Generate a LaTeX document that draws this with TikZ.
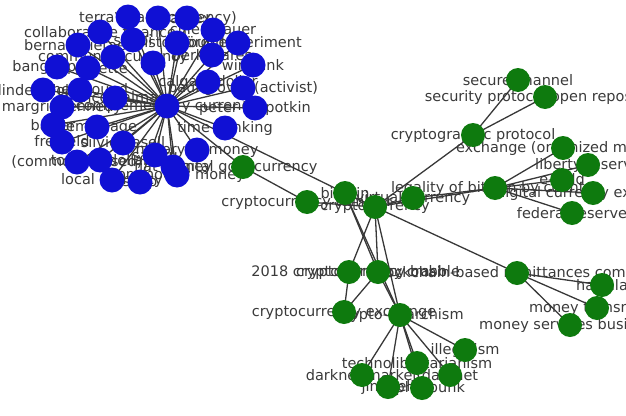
\documentclass[tikz,border=0pt]{standalone}
\usepackage{fontspec}
\setmainfont{DejaVu Sans}
\definecolor{nblue}{RGB}{16,16,212}
\definecolor{ngreen}{RGB}{14,122,14}
\definecolor{ltext}{RGB}{58,58,58}
\pgfdeclarelayer{lab}
\pgfdeclarelayer{edg}
\pgfsetlayers{lab,edg,main}
\tikzset{
  bnode/.style={circle,fill=nblue,minimum size=25pt,inner sep=0pt},
  gnode/.style={circle,fill=ngreen,minimum size=24pt,inner sep=0pt},
  lbl/.style={text=ltext,inner sep=0pt,font=\fontsize{14.5}{16}\selectfont},
  edge/.style={draw=black!78,line width=1.3pt}
}
\newcommand{\bn}[4]{\node[bnode] (#1) at (#2,#3) {};
  \begin{pgfonlayer}{lab}\node[lbl] (#1l) at (#2,#3) {#4};\end{pgfonlayer}}
\newcommand{\gn}[4]{\node[gnode] (#1) at (#2,#3) {};
  \begin{pgfonlayer}{lab}\node[lbl] (#1l) at (#2,#3) {#4};\end{pgfonlayer}}
\begin{document}
\begin{tikzpicture}[x=1pt,y=-1pt]
\useasboundingbox (0,0) rectangle (626,415);
\clip (0,0) rectangle (626,415);
% blue cluster
\bn{b0}{167}{106}{complementary currency}
\bn{b1}{128}{17}{ven}
\bn{b2}{158}{18}{terra (trade currency)}
\bn{b3}{187}{18}{sardex}
\bn{b4}{100}{32}{collaborative finance}
\bn{b5}{213}{30}{chiemgauer}
\bn{b6}{133}{40}{simbi}
\bn{b7}{177}{43}{bristol pound}
\bn{b8}{238}{43}{wörgl experiment}
\bn{b9}{78}{45}{bernard lietaer}
\bn{b10}{113}{57}{community currency}
\bn{b11}{153}{63}{lets}
\bn{b12}{212}{55}{berkshares}
\bn{b13}{57}{67}{bangla-pesa}
\bn{b14}{88}{68}{sol violette}
\bn{b15}{253}{65}{wir bank}
\bn{b16}{43}{90}{linden dollar}
\bn{b17}{80}{90}{totnes pound}
\bn{b18}{208}{82}{calgary dollar}
\bn{b19}{243}{88}{paul glover (activist)}
\bn{b20}{115}{98}{banco palmas}
\bn{b21}{62}{107}{margrit kennedy}
\bn{b22}{255}{108}{peter kropotkin}
\bn{b23}{53}{125}{barter}
\bn{b24}{97}{127}{demurrage}
\bn{b25}{225}{128}{time banking}
\bn{b26}{62}{142}{freigeld}
\bn{b27}{123}{143}{silvio gesell}
\bn{b28}{197}{150}{history of money}
\bn{b29}{155}{155}{sarafu}
\bn{b30}{77}{162}{(commons-based)}
\bn{b31}{100}{160}{toronto dollar}
\bn{b32}{173}{167}{fiat money}
\bn{b33}{112}{180}{local currency}
\bn{b34}{140}{182}{scrip}
\bn{b35}{177}{175}{commodity money}
% green cluster
\gn{g1}{243}{167}{digital gold currency}
\gn{g2}{345}{193}{bitcoin}
\gn{g3}{307}{202}{cryptocurrency tumbler}
\gn{g4}{375}{207}{cryptocurrency}
\gn{g5}{413}{198}{virtual currency}
\gn{g6}{473}{135}{cryptographic protocol}
\gn{g7}{518}{80}{secure channel}
\gn{g8}{545}{97}{security protocol open repository}
\gn{g9}{495}{188}{legality of bitcoin by country}
\gn{g10}{563}{148}{exchange (organized market)}
\gn{g11}{588}{165}{liberty reserve}
\gn{g12}{562}{180}{e-gold}
\gn{g13}{593}{193}{digital currency exchanger}
\gn{g14}{572}{213}{federal reserve}
\gn{g15}{349}{272}{2018 cryptocurrency crash}
\gn{g16}{378}{272}{cryptocurrency bubble}
\gn{g17}{517}{273}{blockchain-based remittances company}
\gn{g18}{602}{285}{hawala}
\gn{g19}{597}{308}{money transmitter}
\gn{g20}{570}{325}{money services business}
\gn{g21}{344}{312}{cryptocurrency exchange}
\gn{g22}{400}{315}{crypto-anarchism}
\gn{g23}{465}{350}{illegalism}
\gn{g24}{417}{363}{technolibertarianism}
\gn{g25}{362}{375}{darknet market}
\gn{g26}{450}{375}{darknet}
\gn{g27}{388}{387}{jim bell}
\gn{g28}{422}{388}{cypherpunk}
\begin{pgfonlayer}{edg}
\foreach \i in {1,...,35} {\draw[edge] (b0.center) -- (b\i.center);}
\draw[edge] (b0.center) -- (g1.center);
\draw[edge] (b0.center) -- (g2.center);
\draw[edge] (g1.center) -- (g3.center);
\draw[edge] (g3.center) -- (g4.center);
\draw[edge] (g2.center) -- (g4.center);
\draw[edge] (g2.center) -- (g16.center);
\draw[edge] (g2.center) -- (g22.center);
\draw[edge] (g4.center) -- (g5.center);
\draw[edge] (g4.center) -- (g6.center);
\draw[edge] (g4.center) -- (g9.center);
\draw[edge] (g4.center) -- (g17.center);
\draw[edge] (g4.center) -- (g15.center);
\draw[edge] (g4.center) -- (g16.center);
\draw[edge] (g4.center) -- (g22.center);
\draw[edge] (g5.center) -- (g9.center);
\draw[edge] (g6.center) -- (g7.center);
\draw[edge] (g6.center) -- (g8.center);
\foreach \j in {10,...,14} {\draw[edge] (g9.center) -- (g\j.center);}
\foreach \j in {18,19,20} {\draw[edge] (g17.center) -- (g\j.center);}
\draw[edge] (g15.center) -- (g21.center);
\draw[edge] (g16.center) -- (g21.center);
\draw[edge] (g16.center) -- (g22.center);
\foreach \j in {23,...,28} {\draw[edge] (g22.center) -- (g\j.center);}
\end{pgfonlayer}
\end{tikzpicture}
\end{document}
